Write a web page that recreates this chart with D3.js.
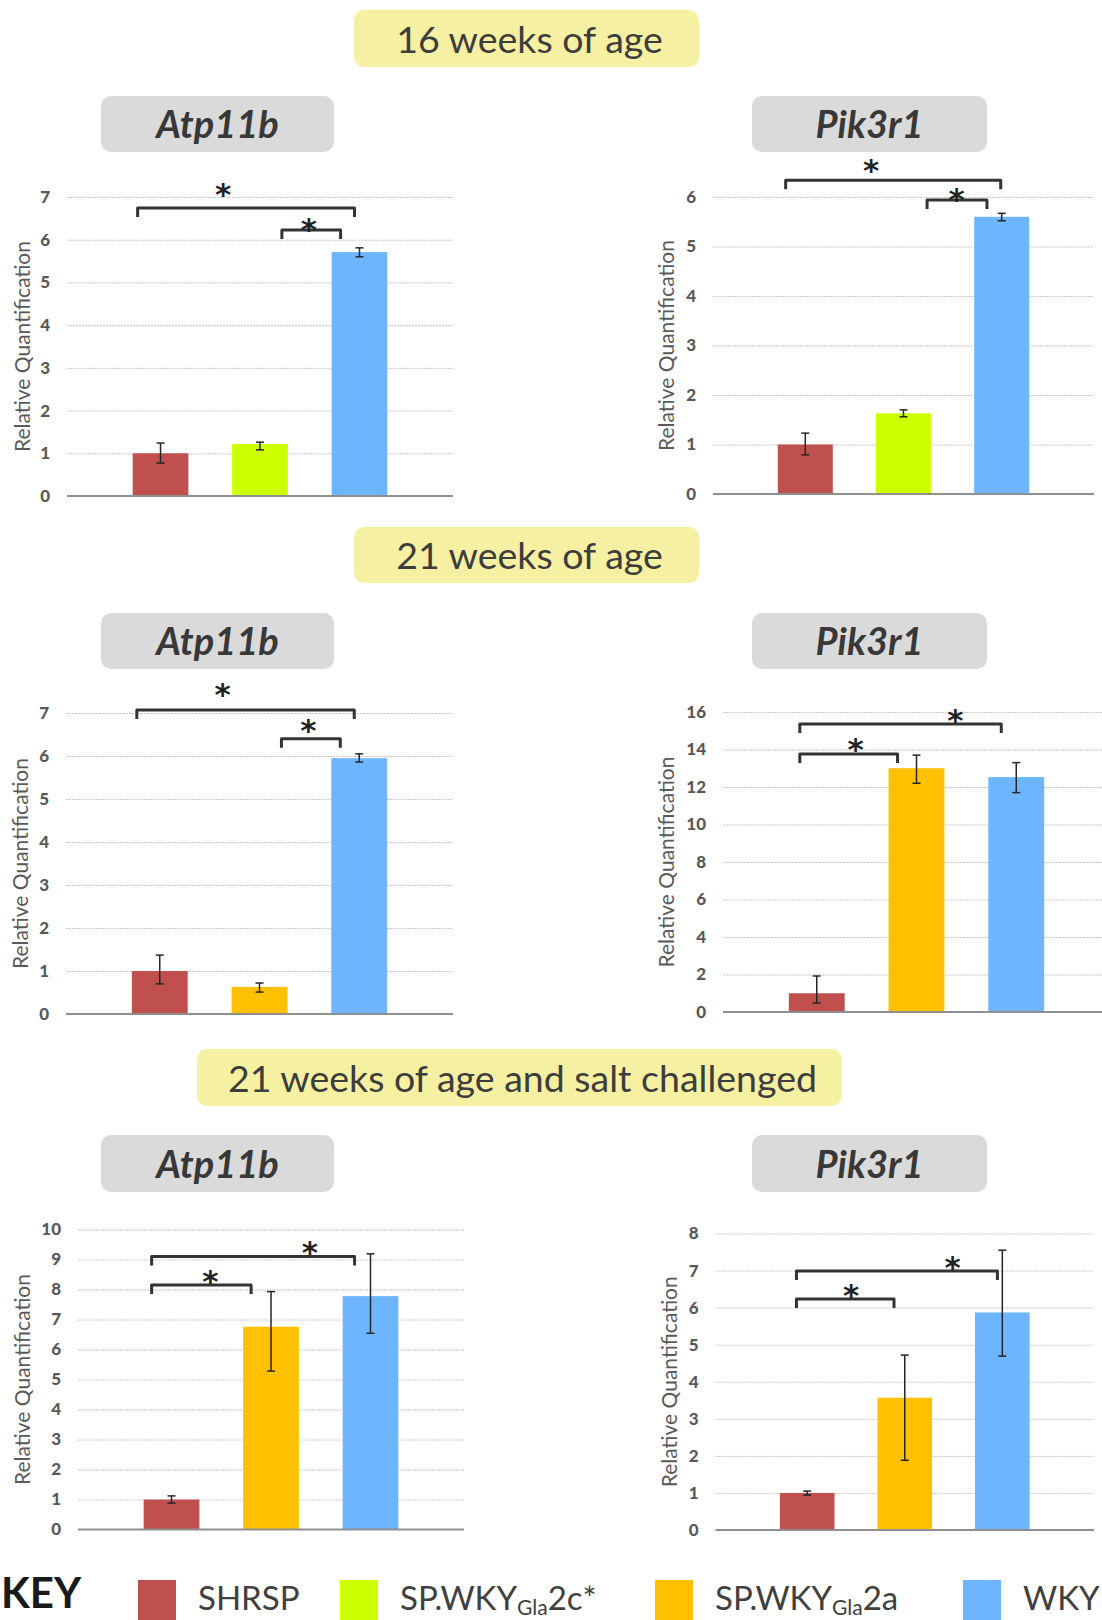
<!DOCTYPE html>
<html>
<head>
<meta charset="utf-8">
<script src="https://cdn.jsdelivr.net/npm/d3@7"></script>
<style>
  body { margin: 0; background: #fff; }
  svg { display: block; }
</style>
</head>
<body>
<script>
// groups and colours (key)
const keyGroups = ['SHRSP', 'SP.WKYGla2c*', 'SP.WKYGla2a', 'WKY']
const keyColors = ['#C0504D', '#CCFF00', '#FFC000', '#6DB6FF']

// section banners
const sectionTitles = ['16 weeks of age', '21 weeks of age', '21 weeks of age and salt challenged']
const geneNames = ['Atp11b', 'Pik3r1']

// 16 weeks, Atp11b
const atp16Groups = ['SHRSP', 'SP.WKYGla2c*', 'WKY']
const atp16Values = [1.0, 1.22, 5.71]
const atp16Max = [1.24, 1.26, 5.81]
const atp16Min = [0.77, 1.08, 5.60]
const atp16Ticks = [0, 1, 2, 3, 4, 5, 6, 7]
// brackets: from/to in category-index units, level in y units
const atp16Sig = [
  { from: -0.23, to: 1.95, level: 6.74, star: 0.63, starLevel: 7.24 },
  { from: 1.22, to: 1.81, level: 6.23, star: 1.49, starLevel: 6.42 }
]

// 16 weeks, Pik3r1
const pik16Groups = ['SHRSP', 'SP.WKYGla2c*', 'WKY']
const pik16Values = [1.0, 1.63, 5.6]
const pik16Max = [1.23, 1.70, 5.67]
const pik16Min = [0.79, 1.56, 5.52]
const pik16Ticks = [0, 1, 2, 3, 4, 5, 6]
const pik16Sig = [
  { from: -0.2, to: 1.99, level: 6.34, star: 0.67, starLevel: 6.69 },
  { from: 1.24, to: 1.85, level: 5.94, star: 1.54, starLevel: 6.1 }
]

// 21 weeks, Atp11b
const atp21Groups = ['SHRSP', 'SP.WKYGla2a', 'WKY']
const atp21Values = [1.0, 0.63, 5.95]
const atp21Max = [1.37, 0.72, 6.05]
const atp21Min = [0.70, 0.51, 5.86]
const atp21Ticks = [0, 1, 2, 3, 4, 5, 6, 7]
const atp21Sig = [
  { from: -0.23, to: 1.95, level: 7.07, star: 0.63, starLevel: 7.6 },
  { from: 1.22, to: 1.81, level: 6.4, star: 1.49, starLevel: 6.77 }
]

// 21 weeks, Pik3r1
const pik21Groups = ['SHRSP', 'SP.WKYGla2a', 'WKY']
const pik21Values = [1.0, 13.0, 12.53]
const pik21Max = [1.92, 13.7, 13.3]
const pik21Min = [0.48, 12.2, 11.7]
const pik21Ticks = [0, 2, 4, 6, 8, 10, 12, 14, 16]
const pik21Sig = [
  { from: -0.17, to: 0.81, level: 13.76, star: 0.39, starLevel: 14.4 },
  { from: -0.17, to: 1.85, level: 15.36, star: 1.39, starLevel: 15.95 }
]

// 21 weeks salt challenged, Atp11b
const atpSaltGroups = ['SHRSP', 'SP.WKYGla2a', 'WKY']
const atpSaltValues = [1.0, 6.76, 7.78]
const atpSaltMax = [1.12, 7.93, 9.19]
const atpSaltMin = [0.88, 5.28, 6.54]
const atpSaltTicks = [0, 1, 2, 3, 4, 5, 6, 7, 8, 9, 10]
const atpSaltSig = [
  { from: -0.2, to: 0.8, level: 8.15, star: 0.39, starLevel: 8.52 },
  { from: -0.2, to: 1.84, level: 9.1, star: 1.39, starLevel: 9.48 }
]

// 21 weeks salt challenged, Pik3r1
const pikSaltGroups = ['SHRSP', 'SP.WKYGla2a', 'WKY']
const pikSaltValues = [1.0, 3.57, 5.87]
const pikSaltMax = [1.05, 4.72, 7.55]
const pikSaltMin = [0.94, 1.88, 4.69]
const pikSaltTicks = [0, 1, 2, 3, 4, 5, 6, 7, 8]
const pikSaltSig = [
  { from: -0.11, to: 0.89, level: 6.23, star: 0.45, starLevel: 6.53 },
  { from: -0.11, to: 1.95, level: 6.99, star: 1.49, starLevel: 7.29 }
]

let width = 1102
let height = 1620
let colorOf = d3.scaleOrdinal().domain(keyGroups).range(keyColors)

let svg = d3.select('body').append('svg')
  .attr('width', width)
  .attr('height', height)
  .style('font-family', 'Lato, "Open Sans", sans-serif')

// banners
let banners = [
  { text: sectionTitles[0], x0: 354, x1: 699, y0: 10, y1: 67 },
  { text: sectionTitles[1], x0: 354, x1: 699, y0: 527, y1: 583 },
  { text: sectionTitles[2], x0: 197, x1: 842, y0: 1049, y1: 1106 }
]
banners.forEach(function (b) {
  svg.append('rect')
    .attr('x', b.x0).attr('y', b.y0)
    .attr('width', b.x1 - b.x0).attr('height', b.y1 - b.y0)
    .attr('rx', 10)
    .attr('fill', '#f6f0a2')
  svg.append('text')
    .attr('x', (b.x0 + b.x1) / 2 + 3)
    .attr('y', (b.y0 + b.y1) / 2 + 14)
    .attr('text-anchor', 'middle')
    .style('font-size', '37.5px')
    .attr('fill', '#3d3d3d')
    .text(b.text)
})

let panels = [
  { gene: geneNames[0], groups: atp16Groups, values: atp16Values, max: atp16Max, min: atp16Min, ticks: atp16Ticks, sig: atp16Sig,
    xRange: [67, 453], yRange: [496, 197], titleX: 23, box: [101, 334, 96, 152] },
  { gene: geneNames[1], groups: pik16Groups, values: pik16Values, max: pik16Max, min: pik16Min, ticks: pik16Ticks, sig: pik16Sig,
    xRange: [713, 1094], yRange: [494, 197], titleX: 667, box: [752, 987, 96, 152] },
  { gene: geneNames[0], groups: atp21Groups, values: atp21Values, max: atp21Max, min: atp21Min, ticks: atp21Ticks, sig: atp21Sig,
    xRange: [66, 453], yRange: [1014, 713], titleX: 21, box: [101, 334, 613, 669] },
  { gene: geneNames[1], groups: pik21Groups, values: pik21Values, max: pik21Max, min: pik21Min, ticks: pik21Ticks, sig: pik21Sig,
    xRange: [723, 1110], yRange: [1012, 712], titleX: 667, box: [752, 987, 613, 669] },
  { gene: geneNames[0], groups: atpSaltGroups, values: atpSaltValues, max: atpSaltMax, min: atpSaltMin, ticks: atpSaltTicks, sig: atpSaltSig,
    xRange: [78, 464], yRange: [1529.5, 1229.5], titleX: 23, box: [101, 334, 1135, 1192] },
  { gene: geneNames[1], groups: pikSaltGroups, values: pikSaltValues, max: pikSaltMax, min: pikSaltMin, ticks: pikSaltTicks, sig: pikSaltSig,
    xRange: [715.5, 1094], yRange: [1530, 1233.5], titleX: 670, box: [752, 987, 1135, 1192] }
]

function drawPanel(p) {
  let g = svg.append('g')
  let x = d3.scaleBand().domain(p.groups).range(p.xRange).paddingInner(0.44).paddingOuter(0.66)
  let y = d3.scaleLinear().domain([0, d3.max(p.ticks)]).range(p.yRange)
  let bw = x.bandwidth()
  let last = p.groups[p.groups.length - 1]
  // category-index -> px, used for the significance brackets
  let xi = d3.scaleLinear().domain([0, p.groups.length - 1])
    .range([x(p.groups[0]) + bw / 2, x(last) + bw / 2])

  // gene label box
  g.append('rect')
    .attr('x', p.box[0]).attr('y', p.box[2])
    .attr('width', p.box[1] - p.box[0]).attr('height', p.box[3] - p.box[2])
    .attr('rx', 10)
    .attr('fill', '#dadada')
  g.append('text')
    .attr('x', (p.box[0] + p.box[1]) / 2)
    .attr('y', (p.box[2] + p.box[3]) / 2 + 14)
    .attr('text-anchor', 'middle')
    .style('font-size', '38px')
    .style('font-weight', 'bold')
    .style('font-style', 'italic')
    .attr('fill', '#383838')
    .text(p.gene)

  // dotted gridlines
  let grid = g.append('g')
    .attr('transform', 'translate(' + p.xRange[0] + ',0)')
    .call(d3.axisLeft(y).tickValues(p.ticks.filter(d => d > 0)).tickSize(-(p.xRange[1] - p.xRange[0])).tickFormat(''))
  grid.select('.domain').remove()
  grid.selectAll('line').attr('stroke', '#c8c8c8').attr('stroke-dasharray', '2,1')

  // tick labels
  let yAxis = g.append('g')
    .attr('transform', 'translate(' + p.xRange[0] + ',0)')
    .call(d3.axisLeft(y).tickValues(p.ticks).tickSize(0).tickPadding(17).tickFormat(d3.format('d')))
  yAxis.select('.domain').remove()
  yAxis.selectAll('text')
    .style('font-family', 'Lato, sans-serif')
    .style('font-size', '17px')
    .style('font-weight', '900')
    .attr('fill', '#595959')

  // y title
  g.append('text')
    .attr('transform', 'translate(' + p.titleX + ',' + (p.yRange[0] + p.yRange[1]) / 2 + ')rotate(-90)')
    .attr('text-anchor', 'middle')
    .attr('dy', '0.35em')
    .style('font-size', '21px')
    .attr('fill', '#595959')
    .text('Relative Quantification')

  // bars
  g.selectAll('rect.bar')
    .data(p.groups)
    .enter().append('rect')
    .attr('class', 'bar')
    .attr('x', d => x(d))
    .attr('y', (d, i) => y(p.values[i]))
    .attr('width', bw)
    .attr('height', (d, i) => y(0) - y(p.values[i]))
    .attr('fill', d => colorOf(d))

  // baseline
  g.append('line')
    .attr('x1', p.xRange[0]).attr('x2', p.xRange[1])
    .attr('y1', y(0)).attr('y2', y(0))
    .attr('stroke', '#8f8f8f')
    .attr('stroke-width', 2)

  // error bars
  let err = g.selectAll('g.err')
    .data(p.groups)
    .enter().append('g')
    .attr('class', 'err')
    .attr('stroke', '#262626')
    .attr('stroke-width', 1.5)
  err.append('line')
    .attr('x1', d => x(d) + bw / 2).attr('x2', d => x(d) + bw / 2)
    .attr('y1', (d, i) => y(p.max[i])).attr('y2', (d, i) => y(p.min[i]))
  err.append('line')
    .attr('x1', d => x(d) + bw / 2 - 4).attr('x2', d => x(d) + bw / 2 + 4)
    .attr('y1', (d, i) => y(p.max[i])).attr('y2', (d, i) => y(p.max[i]))
  err.append('line')
    .attr('x1', d => x(d) + bw / 2 - 4).attr('x2', d => x(d) + bw / 2 + 4)
    .attr('y1', (d, i) => y(p.min[i])).attr('y2', (d, i) => y(p.min[i]))

  // significance brackets
  g.selectAll('path.bracket')
    .data(p.sig)
    .enter().append('path')
    .attr('class', 'bracket')
    .attr('d', function (s) {
      let a = xi(s.from), b = xi(s.to), l = y(s.level)
      return 'M' + a + ',' + (l + 9) + 'L' + a + ',' + l + 'L' + b + ',' + l + 'L' + b + ',' + (l + 9)
    })
    .attr('fill', 'none')
    .attr('stroke', '#333')
    .attr('stroke-width', 3)
    .attr('stroke-linejoin', 'round')
  g.selectAll('text.star')
    .data(p.sig)
    .enter().append('text')
    .attr('class', 'star')
    .attr('x', s => xi(s.star))
    .attr('y', s => y(s.starLevel) + 18)
    .attr('text-anchor', 'middle')
    .style('font-family', '"DejaVu Sans", sans-serif')
    .style('font-size', '31px')
    .style('font-weight', 'bold')
    .attr('fill', '#222')
    .text('*')
}

panels.forEach(drawPanel)

// key
let key = svg.append('g')
key.append('text')
  .attr('x', 1).attr('y', 1608)
  .style('font-size', '42px')
  .style('font-weight', 'bold')
  .attr('fill', '#1a1a1a')
  .text('KEY')
let keyX = d3.scaleOrdinal().domain(keyGroups).range([138, 340, 655, 963])
key.selectAll('rect')
  .data(keyGroups)
  .enter().append('rect')
  .attr('x', d => keyX(d))
  .attr('y', 1580)
  .attr('width', 38).attr('height', 40)
  .attr('fill', d => colorOf(d))
let keyLabels = key.selectAll('text.lab')
  .data(keyGroups)
  .enter().append('text')
  .attr('class', 'lab')
  .attr('x', d => keyX(d) + 60)
  .attr('y', 1610)
  .style('font-size', '33px')
  .attr('fill', '#404040')
keyLabels.each(function (d) {
  let t = d3.select(this)
  let m = d.match(/^(SP\.WKY)(Gla)(.*)$/)
  if (!m) { t.text(d); return }
  t.append('tspan').text(m[1])
  t.append('tspan').attr('dy', 5).style('font-size', '21px').text(m[2])
  t.append('tspan').attr('dy', -5).text(m[3])
})
</script>
</body>
</html>
